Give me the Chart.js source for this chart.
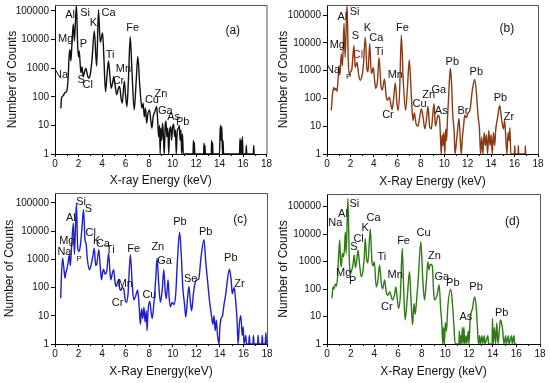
<!DOCTYPE html>
<html><head><meta charset="utf-8">
<script src="https://cdn.jsdelivr.net/npm/chart.js@4/dist/chart.umd.min.js"></script>
<style>
html,body{margin:0;padding:0;background:#fff;}
#wrap{position:relative;width:550px;height:383px;overflow:hidden;}
canvas{position:absolute;}
</style></head><body>
<div id="wrap">
<canvas id="ca" width="275" height="190" style="left:0;top:0"></canvas>
<canvas id="cb" width="275" height="190" style="left:275px;top:0"></canvas>
<canvas id="cc" width="275" height="193" style="left:0;top:190px"></canvas>
<canvas id="cd" width="275" height="193" style="left:275px;top:190px"></canvas>
</div>
<script>
// ---------------- data ----------------
const xTicks = [0,2,4,6,8,10,12,14,16,18];
const yTicks = [1,10,100,1000,10000,100000];

// (a)
const energyA = [
0.5,0.55,0.7,0.85,1.0,1.1,1.2,1.27,1.35,1.45,
1.56,1.65,1.82,1.93,2.0,2.05,2.12,2.2,2.3,2.4,
2.5,2.62,2.75,2.85,3.0,3.15,3.35,3.48,3.55,3.7,
3.85,4.0,4.05,4.15,4.3,4.4,4.55,4.68,4.78,4.9,
5.0,5.12,5.25,5.4,5.5,5.62,5.72,5.9,6.0,6.12,
6.25,6.4,6.55,6.74,6.9,7.05,7.2,7.4,7.5,7.6,
7.7,7.8,7.9,8.05,8.15,8.25,8.35,8.5,8.65,8.75,
8.82,8.9,8.95,9.0,9.08,9.15,9.22,9.3,9.38,9.45,
9.52,9.6,9.68,9.75,9.85,9.92,10.0,10.1,10.18,10.25,
10.32,10.4,10.5,10.58,10.65,10.72,10.78,10.85,10.92,11.75,
11.78,11.82,11.86,11.9,12.65,12.68,12.72,12.76,12.8,13.3,
13.33,13.37,13.41,13.45,14.0,14.05,14.1,14.15,14.2,14.25,
14.3,14.35,15.7,15.75,15.8,15.85,15.9,15.95,16.0,16.25,
16.28,16.32,16.88,16.91,16.95];
const countsA = [
40,90,110,140,160,350,2500,4500,1800,8000,
35000,9000,170000,6000,2500,4000,2000,700,1100,500,
700,1000,600,450,600,2000,20000,2500,1200,110000,
8000,15000,17000,3000,150,400,1800,500,200,300,
500,250,120,200,230,90,60,350,120,45,
400,12500,800,35,300,2600,300,40,60,20,
40,12,25,35,15,8,20,30,46,12,
4,10,1,8,3,12,5,1,10,14,
4,8,1,6,9,3,8,11,4,7,
1,6,8,10,3,7,1,5,1,1,
3,1,2.5,1,1,2.4,1,2,1,1,
3,1,2.5,1,1,6,10,3,9,1,
3,1,1,3.5,1,3,1,4,1,1,
2,1,1,2,1];

// (b)
const energyB = [
0.37,0.45,0.57,0.65,0.74,0.85,0.94,1.02,1.1,1.22,
1.32,1.45,1.55,1.71,1.82,1.92,2.0,2.1,2.3,2.4,
2.56,2.7,2.84,3.0,3.1,3.27,3.4,3.5,3.64,3.78,
3.85,3.95,4.05,4.15,4.3,4.44,4.6,4.72,4.9,5.05,
5.15,5.32,5.45,5.55,5.66,5.83,5.95,6.06,6.2,6.34,
6.5,6.7,6.85,7.02,7.17,7.33,7.45,7.6,7.76,7.9,
8.05,8.2,8.35,8.5,8.62,8.75,8.9,9.0,9.13,9.25,
9.35,9.47,9.6,9.68,9.75,9.82,9.9,9.97,10.05,10.12,
10.2,10.28,10.35,10.45,10.52,10.62,10.72,10.85,10.92,11.05,
11.15,11.26,11.35,11.45,11.55,11.65,11.75,11.9,12.0,12.2,
12.4,12.6,12.75,12.9,13.0,13.1,13.2,13.3,13.4,13.5,
13.6,13.7,13.8,13.9,14.0,14.1,14.2,14.3,14.4,14.55,
14.73,14.85,14.95,15.05,15.15,15.25,15.35,15.45,15.55,15.6,
15.68,16.0,16.02,16.05,16.3,16.32,16.35,16.9,16.92,16.95];
const countsB = [
37,120,250,200,230,180,450,1500,700,4000,
1500,50000,3000,250000,2000,700,900,1000,8000,1300,
2000,700,450,700,1500,16000,1200,900,9500,800,
900,1300,500,230,400,3000,300,200,500,120,
86,110,60,40,80,360,80,37,200,19000,
500,37,200,2400,200,16,30,12,10,20,
43,20,8,20,52,10,8,20,65,10,
15,25,19,4,1,5,2,6,1,8,
3,20,70,500,1200,400,30,6,1,3,
8,19,5,1,4,10,25,20,28,40,
200,480,150,20,9,1,4,1,6,2,
5,1,7,2,5,1,6,2,8,20,
56,25,12,8,16,4,1,6,3,9,
1,1,2,1,1,2,1,1,2,1];

// (c)
const energyC = [
0.48,0.55,0.65,0.75,0.85,0.93,1.0,1.1,1.22,1.3,
1.4,1.56,1.65,1.82,1.92,2.02,2.15,2.3,2.42,2.55,
2.64,2.75,2.93,3.05,3.2,3.33,3.45,3.55,3.72,3.85,
3.95,4.05,4.12,4.25,4.4,4.55,4.68,4.75,4.85,4.98,
5.1,5.2,5.3,5.4,5.5,5.6,5.7,5.83,5.95,6.05,
6.2,6.4,6.55,6.68,6.85,7.02,7.15,7.25,7.35,7.45,
7.55,7.65,7.75,7.82,7.9,8.05,8.15,8.25,8.4,8.55,
8.67,8.8,8.95,9.1,9.24,9.35,9.45,9.6,9.7,9.8,
9.95,10.1,10.25,10.4,10.58,10.72,10.85,11.0,11.1,11.25,
11.37,11.5,11.6,11.75,11.9,12.08,12.2,12.4,12.65,12.8,
12.94,13.1,13.3,13.4,13.5,13.6,13.7,13.8,13.93,14.0,
14.1,14.22,14.35,14.5,14.65,14.81,14.95,15.05,15.21,15.35,
15.45,15.55,15.65,15.78,15.9,15.98,16.05,16.2,16.25,16.45,
16.5,16.55,16.8,16.85,16.9,17.2,17.25,17.3,17.55,17.6,
17.65,17.85,17.9,17.95];
const countsC = [
42,300,1100,500,215,350,430,700,1450,600,
2500,19000,1500,100000,3000,1900,3000,15000,58000,5000,
3500,1000,430,600,1200,2500,600,700,2200,500,
190,350,450,300,400,1650,300,190,300,430,
150,110,150,190,90,80,100,90,40,30,
60,1450,150,37,50,83,20,5,18,8,
20,6,15,3,15,32,15,8,30,200,
1100,150,30,80,430,80,40,190,40,21,
30,25,60,1000,9100,1500,100,25,9,40,
110,30,15,60,150,190,200,1200,5000,800,
200,40,9,5,10,3,7,2,1,4,
8,10,25,60,200,450,200,60,100,30,
8,1,5,10,2,4,1,2,1,1,
2,1,1,2,1,1,2,1,1,2,
1,1,2.5,1];

// (d)
const energyD = [
0.42,0.5,0.58,0.7,0.8,0.9,0.98,1.07,1.15,1.21,
1.3,1.4,1.48,1.55,1.62,1.77,1.88,1.97,2.1,2.2,
2.3,2.4,2.5,2.62,2.75,2.9,3.05,3.15,3.23,3.35,
3.45,3.66,3.8,3.9,4.0,4.16,4.3,4.44,4.6,4.7,
4.87,5.0,5.15,5.3,5.45,5.54,5.7,5.82,5.95,6.05,
6.2,6.36,6.48,6.6,6.8,6.97,7.1,7.23,7.35,7.45,
7.55,7.7,7.93,8.1,8.24,8.4,8.52,8.62,8.72,8.9,
9.0,9.08,9.3,9.48,9.6,9.7,9.78,9.85,9.92,10.0,
10.1,10.2,10.46,10.6,10.72,10.83,11.15,11.18,11.22,11.3,
11.35,11.45,11.5,11.58,11.62,11.75,11.8,11.95,12.0,12.1,
12.3,12.46,12.6,12.7,12.8,12.9,12.95,13.1,13.15,13.3,
13.35,13.6,13.65,13.95,13.98,14.05,14.15,14.25,14.35,14.45,
14.6,14.65,14.75,14.85,14.95,15.1,15.15,15.33,15.38,15.6,
15.65,15.8,15.85,16.0];
const countsD = [
46,120,100,150,130,300,1500,6100,1000,650,
2000,1500,3000,12000,2000,200000,1500,375,500,800,
1750,600,1000,2600,800,280,500,1500,7000,1200,
900,15000,1000,700,1000,120,200,750,150,100,
215,80,60,80,50,40,60,120,40,20,
60,3000,100,7.5,60,430,40,5,30,12,
30,200,5300,200,40,200,1000,500,800,700,
100,40,60,140,20,6,1,4,1,6,
3,20,100,30,5,1,1,3,1,2,
1,4,1,4,1,2,1,3,1,8,
20,52,25,5,1,2,1,2,1,2,
1,2,1,1,8.6,1,4,1,6,1,
5,7.5,6,3,1,2,1,2,1,2,
1,2,1,1];

// element annotations: [text, energy (keV), counts, colour?, font size?]
const labelsA = [['Al',1.28,70000],['Si',2.56,83000],['K',3.27,37000],['Ca',4.55,83000],['Mg',0.91,10700],['P',2.42,7100],['Fe',6.62,26000],['Ti',4.69,3000],['Mn',5.83,940],['Na',0.51,600],['S',2.22,400],['Cl',2.79,260],['Cr',5.4,365],['Cu',8.25,79],['Zn',9.01,128],['Ga',9.38,33],['As',10.1,19.5],['Pb',10.86,13]];
const labelsB = [['Si',2.36,132000],['Al',1.31,83000],['Mg',0.88,8300],['S',2.42,17500],['K',3.44,33000],['Ca',4.21,15200],['Ti',4.44,4800],['Fe',6.43,33000],['Cl',2.64,3600,'#b0102a'],['Na',0.51,1040],['P',1.85,600,null,8],['Mn',5.83,690],['Cr',5.2,25],['Cu',7.9,62],['Zn',8.67,130],['Ga',9.53,198],['As',9.75,35],['Br',11.6,35],['Pb',10.69,2080],['Pb',12.74,905],['Pb',14.79,107],['Zr',15.52,21.6]];
const labelsC = [['Si',2.22,110000],['S',2.84,63000],['Al',1.34,29500],['Cl',3.04,8550],['K',3.53,4600],['Ca',4.07,3560],['Ti',4.69,2200],['Mg',1.0,4350],['Na',0.8,1900],['P',2.05,1020,null,8],['Fe',6.68,2300],['Zn',8.73,2650],['Ga',9.3,890],['Pb',10.61,21000],['Pb',12.8,9100],['Pb',14.93,1110],['Se',11.52,200],['Zr',15.67,135],['Mn',5.97,135],['Cr',5.32,29.5],['Cu',8.02,55]];
const labelsD = [['Si',2.31,126000],['Al',1.35,54000],['Na',0.7,24700],['Ca',3.94,38000],['K',3.23,16300],['Cl',2.67,6650],['S',2.28,3500],['Ti',4.64,1500],['Fe',6.47,5800],['Cu',8.16,11300],['Zn',9.08,1650],['Mg',1.41,375],['P',2.17,200],['Mn',5.76,325],['Cr',5.06,21.6],['Ga',9.7,283],['Pb',10.63,171],['Pb',12.6,122],['As',11.73,9.3],['Pb',14.76,13.8]];

// ---------------- drawing ----------------
const FONT = '"Liberation Sans", Arial, sans-serif';

const framePlugin = {
  id:'frame',
  afterDraw(chart){
    const {ctx, chartArea:a, scales:{x}} = chart;
    ctx.save();
    ctx.strokeStyle = '#555'; ctx.lineWidth = 1;
    ctx.beginPath();
    ctx.moveTo(a.left, a.top + 0.5); ctx.lineTo(a.right + 0.5, a.top + 0.5);
    ctx.lineTo(a.right + 0.5, a.bottom);
    ctx.stroke();
    // minor x ticks
    ctx.strokeStyle = '#000';
    ctx.beginPath();
    for (let v = 1; v < 18; v += 2) {
      const px = Math.round(x.getPixelForValue(v)) + 0.5;
      ctx.moveTo(px, a.bottom); ctx.lineTo(px, a.bottom + 2);
    }
    ctx.stroke();
    ctx.restore();
  }
};

function labelPlugin(items, tag, tagPos){
  return {
    id:'elementLabels',
    afterDatasetsDraw(chart){
      const {ctx, scales:{x, y}} = chart;
      ctx.save();
      ctx.textAlign = 'center'; ctx.textBaseline = 'middle';
      for (const it of items) {
        ctx.fillStyle = it[3] || '#111';
        ctx.font = (it[4] || 11) + 'px ' + FONT;
        ctx.fillText(it[0], x.getPixelForValue(it[1]), y.getPixelForValue(it[2]));
      }
      ctx.fillStyle = '#111';
      ctx.font = '12px ' + FONT;
      ctx.fillText(tag, x.getPixelForValue(tagPos[0]), y.getPixelForValue(tagPos[1]));
      ctx.restore();
    }
  };
}

function makeChart(id, energies, counts, o){
  const n = Math.min(energies.length, counts.length);
  const pts = [];
  for (let i = 0; i < n; i++) pts.push({x: energies[i], y: counts[i]});
  return new Chart(document.getElementById(id), {
    type:'line',
    data:{datasets:[{data:pts, borderColor:o.color, borderWidth:1.4, pointRadius:0, cubicInterpolationMode:'monotone', fill:false}]},
    options:{
      responsive:false, animation:false, devicePixelRatio:1,
      layout:{padding:{top:o.top, right:o.right, left:0, bottom:0}},
      plugins:{legend:{display:false}, tooltip:{enabled:false}},
      scales:{
        x:{type:'linear', min:0, max:18,
          afterBuildTicks:(s)=>{ s.ticks = xTicks.map(v=>({value:v})); },
          ticks:{font:{size:10, family:FONT}, color:'#111', padding:1, maxRotation:0, autoSkip:false},
          grid:{drawOnChartArea:false, tickLength:3, color:'#000'},
          border:{color:'#000', width:1},
          title:{display:true, text:o.xTitle, font:{size:12, family:FONT}, color:'#111', padding:{top:0, bottom:o.xtpb}},
          afterFit:(s)=>{ s.height = o.xh; }
        },
        y:{type:'logarithmic', min:1, max:o.ymax,
          afterBuildTicks:(s)=>{ s.ticks = yTicks.map(v=>({value:v})); },
          ticks:{callback:(v)=>String(v), font:{size:10, family:FONT}, color:'#111', padding:2, autoSkip:false},
          grid:{drawOnChartArea:false, tickLength:4, color:'#000'},
          border:{color:'#000', width:1},
          title:{display:true, text:'Number of Counts', font:{size:12, family:FONT}, color:'#111', padding:{top:o.ytpt, bottom:0}},
          afterFit:(s)=>{ s.width = o.yw; s.paddingTop = 0; s.paddingBottom = 0; }
        }
      }
    },
    plugins:[framePlugin, labelPlugin(o.labels, o.tag, o.tagPos)]
  });
}

makeChart('ca', energyA, countsA, {color:'#111', top:5, right:8.5, yw:55, xh:36, ymax:162000, xTitle:'X-ray Energy (keV)', xtpb:2, ytpt:5, labels:labelsA, tag:'(a)', tagPos:[15.13,20000]});
makeChart('cb', energyB, countsB, {color:'#8a3a14', top:5, right:12, yw:52, xh:36, ymax:230000, xTitle:'X-Ray Energy (keV)', xtpb:1, ytpt:1, labels:labelsB, tag:'(b)', tagPos:[15.35,33000]});
makeChart('cc', energyC, countsC, {color:'#1f1fd0', top:3, right:8, yw:55, xh:39, ymax:225000, xTitle:'X-Ray Energy(keV)', xtpb:4, ytpt:2, labels:labelsC, tag:'(c)', tagPos:[15.72,25600]});
makeChart('cd', energyD, countsD, {color:'#2f7a16', top:4, right:10, yw:52, xh:39, ymax:290000, xTitle:'X-Ray Energy (keV)', xtpb:4, ytpt:1, labels:labelsD, tag:'(d)', tagPos:[15.66,28500]});
</script>
</body></html>
